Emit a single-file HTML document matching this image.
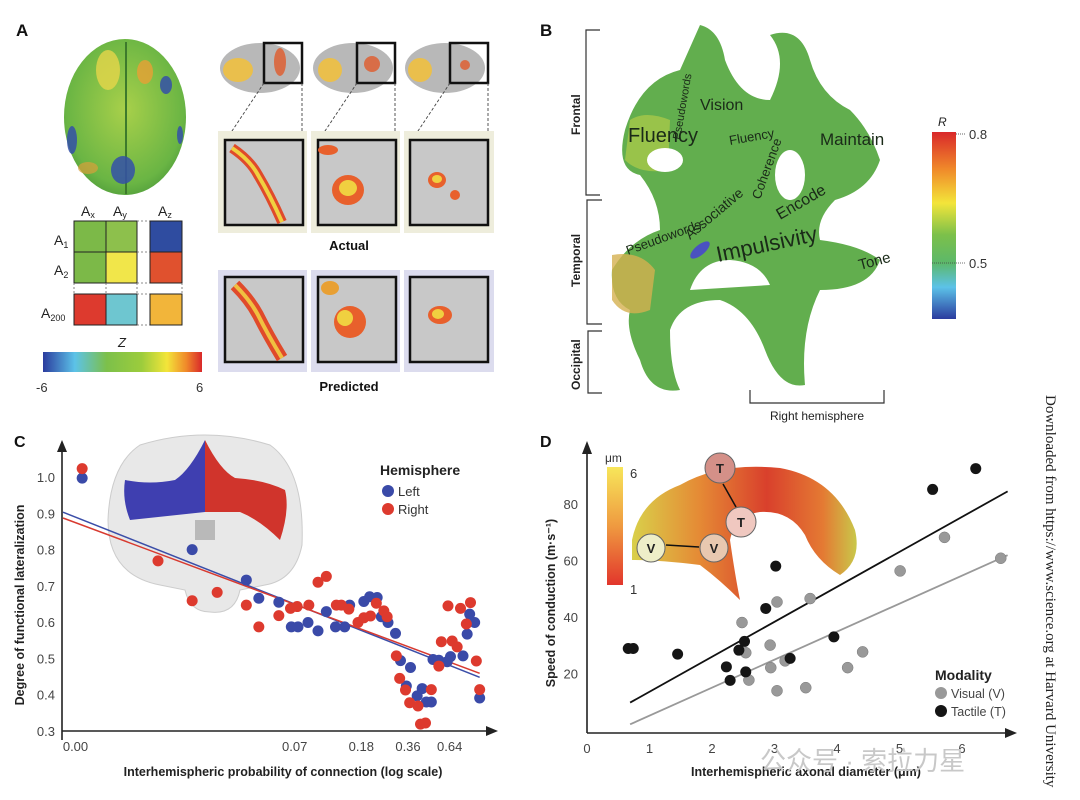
<!DOCTYPE html>
<html><head><meta charset="utf-8"><style>
html,body{margin:0;padding:0;background:#fff;}
body{width:1080px;height:800px;overflow:hidden;position:relative;font-family:"Liberation Sans",sans-serif;}
svg{position:absolute;left:0;top:0;}
</style></head><body>
<svg id="fig" width="1080" height="800" viewBox="0 0 1080 800" xmlns="http://www.w3.org/2000/svg">
<defs>
<linearGradient id="zgrad" x1="0" x2="1" y1="0" y2="0">
<stop offset="0" stop-color="#2b3c9e"/><stop offset="0.2" stop-color="#5cc2e8"/><stop offset="0.4" stop-color="#7cc04a"/><stop offset="0.62" stop-color="#9ccc3c"/><stop offset="0.78" stop-color="#f3e53a"/><stop offset="0.9" stop-color="#f08a2a"/><stop offset="1" stop-color="#d9282a"/>
</linearGradient>
<linearGradient id="rgrad" x1="0" x2="0" y1="0" y2="1">
<stop offset="0" stop-color="#d9282a"/><stop offset="0.2" stop-color="#f08a2a"/><stop offset="0.38" stop-color="#f3e53a"/><stop offset="0.55" stop-color="#7cc04a"/><stop offset="0.7" stop-color="#5cb86a"/><stop offset="0.83" stop-color="#5cc2e8"/><stop offset="1" stop-color="#2b3c9e"/>
</linearGradient>
<linearGradient id="umgrad" x1="0" x2="0" y1="0" y2="1">
<stop offset="0" stop-color="#f7e65a"/><stop offset="0.5" stop-color="#ef9a40"/><stop offset="1" stop-color="#e2362c"/>
</linearGradient>
<radialGradient id="brainTop" cx="0.5" cy="0.45" r="0.6">
<stop offset="0" stop-color="#a8d04a"/><stop offset="0.8" stop-color="#6ab544"/><stop offset="1" stop-color="#4d9a3a"/>
</radialGradient>
<linearGradient id="archGrad" x1="0" x2="1" y1="0" y2="0">
<stop offset="0" stop-color="#d9d04a"/><stop offset="0.3" stop-color="#e58a35"/><stop offset="0.6" stop-color="#d9402c"/><stop offset="0.85" stop-color="#e47a33"/><stop offset="1" stop-color="#c9c84a"/>
</linearGradient>
</defs>

<!-- ===== Panel A ===== -->
<text x="16" y="36" font-size="17" font-weight="bold" fill="#111">A</text>
<g>
<ellipse cx="125" cy="117" rx="61" ry="78" fill="url(#brainTop)"/>
<line x1="126" y1="42" x2="126" y2="194" stroke="#3d7a2c" stroke-width="2"/>
<ellipse cx="108" cy="70" rx="12" ry="20" fill="#e6d64a" opacity="0.8"/>
<ellipse cx="145" cy="72" rx="8" ry="12" fill="#e8a034" opacity="0.8"/>
<ellipse cx="123" cy="170" rx="12" ry="14" fill="#3450a8" opacity="0.85"/>
<ellipse cx="72" cy="140" rx="5" ry="14" fill="#3450a8" opacity="0.85"/>
<ellipse cx="166" cy="85" rx="6" ry="9" fill="#3450a8" opacity="0.85"/>
<ellipse cx="180" cy="135" rx="3" ry="9" fill="#3450a8" opacity="0.85"/>
<ellipse cx="88" cy="168" rx="10" ry="6" fill="#d9a03a" opacity="0.7"/>
</g>
<g font-size="14" fill="#222">
<text x="81" y="216">A<tspan font-size="9" dy="2">x</tspan></text>
<text x="113" y="216">A<tspan font-size="9" dy="2">y</tspan></text>
<text x="158" y="216">A<tspan font-size="9" dy="2">z</tspan></text>
<text x="54" y="245">A<tspan font-size="9" dy="3">1</tspan></text>
<text x="54" y="275">A<tspan font-size="9" dy="3">2</tspan></text>
<text x="41" y="318">A<tspan font-size="9" dy="3">200</tspan></text>
<rect x="74" y="221" width="32" height="31" fill="#7cb948" stroke="#222" stroke-width="1"/>
<rect x="106" y="221" width="31" height="31" fill="#8dc04c" stroke="#222" stroke-width="1"/>
<rect x="74" y="252" width="32" height="31" fill="#7cb948" stroke="#222" stroke-width="1"/>
<rect x="106" y="252" width="31" height="31" fill="#f1e64a" stroke="#222" stroke-width="1"/>
<rect x="150" y="221" width="32" height="31" fill="#2f4ca0" stroke="#222" stroke-width="1"/>
<rect x="150" y="252" width="32" height="31" fill="#e0512e" stroke="#222" stroke-width="1"/>
<rect x="74" y="294" width="32" height="31" fill="#dd3a2e" stroke="#222" stroke-width="1"/>
<rect x="106" y="294" width="31" height="31" fill="#6ec6d0" stroke="#222" stroke-width="1"/>
<rect x="150" y="294" width="32" height="31" fill="#f2b53a" stroke="#222" stroke-width="1"/>
<g stroke="#666" stroke-dasharray="2,2" stroke-width="0.8">
<line x1="137" y1="221" x2="150" y2="221"/><line x1="137" y1="252" x2="150" y2="252"/><line x1="137" y1="283" x2="150" y2="283"/>
<line x1="137" y1="294" x2="150" y2="294"/><line x1="137" y1="325" x2="150" y2="325"/>
<line x1="74" y1="283" x2="74" y2="294"/><line x1="106" y1="283" x2="106" y2="294"/><line x1="137" y1="283" x2="137" y2="294"/><line x1="182" y1="283" x2="182" y2="294"/>
</g>
</g>
<g>
<text x="118" y="347" font-size="13" font-style="italic" fill="#222">Z</text>
<rect x="43" y="352" width="159" height="20" fill="url(#zgrad)"/>
<text x="36" y="392" font-size="13" fill="#333">-6</text>
<text x="196" y="392" font-size="13" fill="#333">6</text>
</g>
<g>
<g id="lb1"><ellipse cx="260" cy="68" rx="40" ry="25" fill="#b8b8b8"/><ellipse cx="238" cy="70" rx="15" ry="12" fill="#f0c040" opacity="0.9"/><ellipse cx="280" cy="62" rx="6" ry="14" fill="#e05a2a" opacity="0.8"/><rect x="264" y="43" width="38" height="40" fill="none" stroke="#111" stroke-width="2.5"/></g>
<g><ellipse cx="353" cy="68" rx="40" ry="25" fill="#b8b8b8"/><ellipse cx="330" cy="70" rx="12" ry="12" fill="#f0c040" opacity="0.9"/><ellipse cx="372" cy="64" rx="8" ry="8" fill="#e05a2a" opacity="0.8"/><rect x="357" y="43" width="38" height="40" fill="none" stroke="#111" stroke-width="2.5"/></g>
<g><ellipse cx="445" cy="68" rx="40" ry="25" fill="#b8b8b8"/><ellipse cx="420" cy="70" rx="12" ry="12" fill="#f0c040" opacity="0.9"/><ellipse cx="465" cy="65" rx="5" ry="5" fill="#e05a2a" opacity="0.8"/><rect x="450" y="43" width="38" height="40" fill="none" stroke="#111" stroke-width="2.5"/></g>
<g stroke="#444" stroke-dasharray="3,2" stroke-width="0.9">
<line x1="264" y1="83" x2="226" y2="140"/><line x1="302" y1="83" x2="302" y2="140"/>
<line x1="357" y1="83" x2="319" y2="140"/><line x1="395" y1="83" x2="395" y2="140"/>
<line x1="450" y1="83" x2="412" y2="140"/><line x1="488" y1="83" x2="488" y2="140"/>
</g>
</g>
<g>
<rect x="218" y="131" width="89" height="102" fill="#eeeddc"/><rect x="311" y="131" width="89" height="102" fill="#eeeddc"/><rect x="404" y="131" width="90" height="102" fill="#eeeddc"/>
<rect x="225" y="140" width="78" height="85" fill="#c8c8c8" stroke="#111" stroke-width="2.5"/>
<rect x="318" y="140" width="78" height="85" fill="#c8c8c8" stroke="#111" stroke-width="2.5"/>
<rect x="410" y="140" width="78" height="85" fill="#c8c8c8" stroke="#111" stroke-width="2.5"/>
<path d="M232 148 Q250 160 258 175 Q270 195 282 222" stroke="#e04a2a" stroke-width="10" fill="none"/>
<path d="M232 148 Q250 160 258 175 Q270 195 282 222" stroke="#f0d040" stroke-width="4" fill="none"/>
<ellipse cx="348" cy="190" rx="16" ry="15" fill="#e8602c"/><ellipse cx="348" cy="188" rx="9" ry="8" fill="#f0d040"/><ellipse cx="328" cy="150" rx="10" ry="5" fill="#e8602c"/>
<ellipse cx="437" cy="180" rx="9" ry="8" fill="#e8602c"/><ellipse cx="437" cy="179" rx="5" ry="4" fill="#f0d040"/><ellipse cx="455" cy="195" rx="5" ry="5" fill="#e8602c"/>
<text x="349" y="250" font-size="13" font-weight="bold" text-anchor="middle" fill="#111">Actual</text>
</g>
<g>
<rect x="218" y="270" width="89" height="102" fill="#dcdcee"/><rect x="311" y="270" width="89" height="102" fill="#dcdcee"/><rect x="404" y="270" width="90" height="102" fill="#dcdcee"/>
<rect x="225" y="277" width="78" height="85" fill="#c8c8c8" stroke="#111" stroke-width="2.5"/>
<rect x="318" y="277" width="78" height="85" fill="#c8c8c8" stroke="#111" stroke-width="2.5"/>
<rect x="410" y="277" width="78" height="85" fill="#c8c8c8" stroke="#111" stroke-width="2.5"/>
<path d="M235 285 Q250 300 258 315 Q268 335 282 358" stroke="#e04a2a" stroke-width="12" fill="none"/>
<path d="M235 285 Q250 300 258 315 Q268 335 282 358" stroke="#f0c040" stroke-width="4" fill="none"/>
<ellipse cx="350" cy="322" rx="16" ry="16" fill="#e8602c"/><ellipse cx="345" cy="318" rx="8" ry="8" fill="#f0d040"/><ellipse cx="330" cy="288" rx="9" ry="7" fill="#e8a034"/>
<ellipse cx="440" cy="315" rx="12" ry="9" fill="#e8602c"/><ellipse cx="438" cy="314" rx="6" ry="5" fill="#f0d040"/>
<text x="349" y="391" font-size="13" font-weight="bold" text-anchor="middle" fill="#111">Predicted</text>
</g>

<!-- ===== Panel B ===== -->
<text x="540" y="36" font-size="17" font-weight="bold" fill="#111">B</text>
<g stroke="#333" stroke-width="1.2" fill="none">
<path d="M600 30 L586 30 L586 195 L600 195"/>
<path d="M602 200 L587 200 L587 324 L602 324"/>
<path d="M602 331 L588 331 L588 393 L602 393"/>
</g>
<g font-size="12" font-weight="bold" fill="#222">
<text transform="translate(580,135) rotate(-90)">Frontal</text>
<text transform="translate(580,287) rotate(-90)">Temporal</text>
<text transform="translate(580,390) rotate(-90)">Occipital</text>
</g>
<g>
<path d="M625 130 Q640 80 680 70 L700 25 Q720 30 725 60 Q740 100 770 100 Q790 60 770 35 Q800 25 810 60 Q820 95 850 110 Q870 130 880 160 Q870 190 835 200 Q815 220 820 240 Q860 245 880 260 Q870 290 820 290 Q800 330 805 385 Q780 390 765 350 Q750 310 720 300 Q680 300 670 330 Q670 370 680 390 Q650 395 640 360 Q625 330 630 310 Q610 300 612 270 Q630 240 660 230 Q660 200 640 175 Q615 170 625 130 Z" fill="#62ae4e"/>
<path d="M630 120 Q645 110 670 120 L668 170 Q640 175 625 160 Z" fill="#a8c84a" opacity="0.8"/>
<path d="M612 255 Q640 250 655 270 L650 310 Q625 320 612 300 Z" fill="#d4b050" opacity="0.8"/>
<ellipse cx="665" cy="160" rx="18" ry="12" fill="#fff"/>
<ellipse cx="790" cy="175" rx="15" ry="25" fill="#fff"/>
<path d="M690 290 Q700 260 730 260 Q760 262 770 285 Z" fill="#fff"/>
<ellipse cx="700" cy="250" rx="12" ry="5" fill="#4a52c0" transform="rotate(-40 700 250)"/>
<g fill="#1a2a18" font-family="Liberation Sans Narrow, Liberation Sans, sans-serif">
<text x="628" y="142" font-size="20" transform="rotate(0)">Fluency</text>
<text x="700" y="110" font-size="16">Vision</text>
<text x="718" y="262" font-size="22" transform="rotate(-12 718 262)">Impulsivity</text>
<text x="690" y="240" font-size="14" transform="rotate(-40 690 240)">Associative</text>
<text x="780" y="220" font-size="16" transform="rotate(-30 780 220)">Encode</text>
<text x="820" y="145" font-size="17">Maintain</text>
<text x="860" y="270" font-size="15" transform="rotate(-15 860 270)">Tone</text>
<text x="628" y="255" font-size="13" transform="rotate(-20 628 255)">Pseudowords</text>
<text x="680" y="140" font-size="11" transform="rotate(-80 680 140)">Pseudowords</text>
<text x="730" y="145" font-size="13" transform="rotate(-10 730 145)">Fluency</text>
<text x="760" y="200" font-size="13" transform="rotate(-70 760 200)">Coherence</text>
</g>
</g>
<g>
<text x="938" y="126" font-size="12" font-style="italic" fill="#222">R</text>
<rect x="932" y="132" width="24" height="187" fill="url(#rgrad)"/>
<line x1="956" y1="134" x2="966" y2="134" stroke="#666" stroke-dasharray="1,1"/>
<line x1="932" y1="263" x2="966" y2="263" stroke="#444" stroke-dasharray="1,1" stroke-width="0.8"/>
<text x="969" y="139" font-size="13" fill="#333">0.8</text>
<text x="969" y="268" font-size="13" fill="#333">0.5</text>
</g>
<g>
<path d="M750 390 L750 403 L884 403 L884 390" stroke="#333" stroke-width="1.2" fill="none"/>
<text x="817" y="420" font-size="12" text-anchor="middle" fill="#222">Right hemisphere</text>
</g>

<!-- ===== Panel C ===== -->
<text x="14" y="447" font-size="16" font-weight="bold" fill="#111">C</text>
<g>
<path d="M140 445 Q205 425 270 445 Q305 470 302 545 Q295 580 265 585 L240 590 Q235 615 210 612 Q190 612 185 590 L160 585 Q108 575 108 520 Q110 465 140 445 Z" fill="#e8e8e8" stroke="#ccc"/>
<path d="M205 440 Q190 470 175 480 Q150 485 125 480 Q122 500 130 520 L205 512 Z" fill="#3f3fb0"/>
<path d="M205 440 Q220 470 235 478 Q265 480 285 490 Q290 510 280 540 Q260 520 240 512 L205 512 Z" fill="#d0342c"/>
<rect x="195" y="520" width="20" height="20" fill="#999" opacity="0.6"/>
</g>
<g id="chartC"></g>

<!-- ===== Panel D ===== -->
<text x="540" y="447" font-size="16" font-weight="bold" fill="#111">D</text>
<g>
<path d="M632 540 Q640 500 680 485 Q720 462 780 468 Q835 478 855 530 Q862 560 840 575 Q815 560 805 535 Q790 510 760 512 Q735 515 730 540 Q735 575 740 600 Q720 580 700 565 Q660 560 632 560 Z" fill="url(#archGrad)"/>
<circle cx="720" cy="468" r="15" fill="#d49088" stroke="#666"/><text x="720" y="473" font-size="13" font-weight="bold" text-anchor="middle" fill="#222">T</text>
<circle cx="741" cy="522" r="15" fill="#f0c8c0" stroke="#666"/><text x="741" y="527" font-size="13" font-weight="bold" text-anchor="middle" fill="#222">T</text>
<circle cx="651" cy="548" r="14" fill="#eeeec8" stroke="#666"/><text x="651" y="553" font-size="13" font-weight="bold" text-anchor="middle" fill="#222">V</text>
<circle cx="714" cy="548" r="14" fill="#e8c8b0" stroke="#666"/><text x="714" y="553" font-size="13" font-weight="bold" text-anchor="middle" fill="#222">V</text>
<line x1="723" y1="484" x2="736" y2="507" stroke="#111" stroke-width="1.5"/>
<line x1="666" y1="545" x2="699" y2="547" stroke="#111" stroke-width="1.5"/>
<rect x="607" y="467" width="16" height="118" fill="url(#umgrad)"/>
<text x="605" y="462" font-size="12" fill="#333">μm</text>
<text x="630" y="478" font-size="13" fill="#333">6</text>
<text x="630" y="594" font-size="13" fill="#333">1</text>
</g>
<g id="chartD"></g>

<text x="760" y="770" font-size="26" fill="#c8c8c8" font-family="Liberation Sans, Noto Sans CJK SC, sans-serif">公众号 · 索拉力星</text>
<text transform="translate(1046,395) rotate(90)" font-size="15" font-family="Liberation Serif, serif" fill="#222">Downloaded from https://www.science.org at Harvard University</text>
</svg>
<script>
// ---- Chart C data ----
const cTickLabels = ["0.00","0.07","0.18","0.36","0.64"];
const cTickPos = [3, 55.6, 71.6, 82.8, 92.8];
const cYTicks = [1.0,0.9,0.8,0.7,0.6,0.5,0.4,0.3];
const leftX = [4.6,31,44,47,51.8,54.8,56.4,58.8,61.2,63.2,65.4,67.6,68.8,72.2,73.6,75.4,76.4,78,79.8,81,83.4,82.4,85,86.2,87.2,88.4,88.8,90.2,92.2,93,96,97,97.6,98.8,100];
const leftY = [0.997,0.80,0.716,0.666,0.655,0.587,0.587,0.599,0.576,0.629,0.587,0.587,0.647,0.657,0.670,0.668,0.615,0.599,0.569,0.494,0.475,0.424,0.397,0.417,0.380,0.380,0.497,0.495,0.491,0.505,0.507,0.567,0.622,0.599,0.391];
const rightX = [4.6,22.8,31,37,44,47,51.8,54.6,56.2,59,61.2,63.2,65.6,66.8,68.6,70.8,72.2,73.8,75.2,77,77.8,80,80.8,82.2,83.2,85.2,85.8,87,88.4,90.2,90.8,92.4,93.4,94.6,95.4,96.8,97.8,99.2,100];
const rightY = [1.023,0.769,0.659,0.682,0.647,0.587,0.618,0.638,0.643,0.647,0.710,0.726,0.647,0.647,0.636,0.599,0.612,0.617,0.652,0.631,0.615,0.507,0.445,0.413,0.378,0.369,0.319,0.322,0.414,0.479,0.546,0.645,0.548,0.532,0.638,0.595,0.654,0.493,0.414];
const leftFit = [0.903, 0.448];
const rightFit = [0.887, 0.459];
// ---- Chart D data ----
const dXTicks = [0,1,2,3,4,5,6];
const dYTicks = [20,40,60,80];
const visX = [2.48,2.54,2.59,2.93,2.94,3.04,3.04,3.17,3.50,3.57,4.17,4.41,5.01,5.72,6.62];
const visY = [38.0,27.3,17.6,30.0,22.0,45.3,13.8,24.4,14.9,46.5,22.0,27.6,56.3,68.2,60.8];
const tacX = [0.66,0.74,1.45,2.23,2.29,2.43,2.52,2.54,2.86,3.02,3.25,3.95,5.53,6.22];
const tacY = [28.8,28.8,26.8,22.3,17.5,28.2,31.3,20.5,43.0,58.0,25.3,32.9,85.2,92.6];
const visFit = [-4.95, 9.93];
const tacFit = [1.06, 12.4];
const fitRange = [0.69, 6.73];

const NS="http://www.w3.org/2000/svg";
function mk(parent, tag, attrs, text){const e=document.createElementNS(NS,tag);for(const k in attrs)e.setAttribute(k,attrs[k]);if(text!==undefined)e.textContent=text;parent.appendChild(e);return e;}

// Chart C
(function(){
const g=document.getElementById('chartC');
const xs=u=>63+u*4.1667, ys=v=>477+(1-v)*362.9;
let a=mk(g,'path',{d:'M62 740 L62 445',stroke:'#222','stroke-width':1.6,fill:'none'});

a=mk(g,'path',{d:'M57 452 L62 440 L67 452 Z',fill:'#222'});
a=mk(g,'path',{d:'M62 731 L490 731',stroke:'#222','stroke-width':1.6});

mk(g,'path',{d:'M486 726 L498 731 L486 736 Z',fill:'#222'});
cYTicks.forEach(v=>{const t=mk(g,'text',{x:55,y:ys(v)+5,'font-size':13,'text-anchor':'end',fill:'#444'},v.toFixed(1));
});
cTickLabels.forEach((l,i)=>{const t=mk(g,'text',{x:xs(cTickPos[i]),y:751,'font-size':13,'text-anchor':'middle',fill:'#444'},l);
});
let t=mk(g,'text',{x:283,y:776,'font-size':12.5,'font-weight':'bold','text-anchor':'middle',fill:'#222'},'Interhemispheric probability of connection (log scale)');

t=mk(g,'text',{transform:'translate(24,605) rotate(-90)','font-size':12.5,'font-weight':'bold','text-anchor':'middle',fill:'#222'},'Degree of functional lateralization');

let l=mk(g,'line',{x1:xs(0),y1:ys(leftFit[0]),x2:xs(100),y2:ys(leftFit[1]),stroke:'#3b4ea8','stroke-width':1.5});

l=mk(g,'line',{x1:xs(0),y1:ys(rightFit[0]),x2:xs(100),y2:ys(rightFit[1]),stroke:'#d83a30','stroke-width':1.5});

leftX.forEach((x,i)=>{const c=mk(g,'circle',{cx:xs(x),cy:ys(leftY[i]),r:5.5,fill:'#3a4aa8'});
});
rightX.forEach((x,i)=>{const c=mk(g,'circle',{cx:xs(x),cy:ys(rightY[i]),r:5.5,fill:'#dd3a2e'});
});
t=mk(g,'text',{x:380,y:475,'font-size':14,'font-weight':'bold',fill:'#222'},'Hemisphere');

let c=mk(g,'circle',{cx:388,cy:491,r:6,fill:'#3a4aa8'});
t=mk(g,'text',{x:398,y:496,'font-size':13,fill:'#333'},'Left');
c=mk(g,'circle',{cx:388,cy:509,r:6,fill:'#dd3a2e'});
t=mk(g,'text',{x:398,y:514,'font-size':13,fill:'#333'},'Right');
})();

// Chart D
(function(){
const g=document.getElementById('chartD');
const xs=x=>587+x*62.5, ys=y=>729.7-y*2.82;
let a=mk(g,'path',{d:'M587 733 L587 448',stroke:'#222','stroke-width':1.6,fill:'none'});

mk(g,'path',{d:'M582 454 L587 441 L592 454 Z',fill:'#222'});
a=mk(g,'path',{d:'M587 733 L1010 733',stroke:'#222','stroke-width':1.6});

mk(g,'path',{d:'M1005 728 L1017 733 L1005 738 Z',fill:'#222'});
dYTicks.forEach(v=>{const t=mk(g,'text',{x:578,y:ys(v)+5,'font-size':13,'text-anchor':'end',fill:'#444'},String(v));
});
dXTicks.forEach(v=>{const t=mk(g,'text',{x:xs(v),y:753,'font-size':13,'text-anchor':'middle',fill:'#444'},String(v));
});
let t=mk(g,'text',{x:806,y:776,'font-size':12.5,'font-weight':'bold','text-anchor':'middle',fill:'#222'},'Interhemispheric axonal diameter (μm)');

t=mk(g,'text',{transform:'translate(555,603) rotate(-90)','font-size':12.5,'font-weight':'bold','text-anchor':'middle',fill:'#222'},'Speed of conduction (m·s⁻¹)');

let l=mk(g,'line',{x1:xs(fitRange[0]),y1:ys(tacFit[0]+tacFit[1]*fitRange[0]),x2:xs(fitRange[1]),y2:ys(tacFit[0]+tacFit[1]*fitRange[1]),stroke:'#111','stroke-width':1.8});

l=mk(g,'line',{x1:xs(fitRange[0]),y1:ys(visFit[0]+visFit[1]*fitRange[0]),x2:xs(fitRange[1]),y2:ys(visFit[0]+visFit[1]*fitRange[1]),stroke:'#999','stroke-width':1.8});

visX.forEach((x,i)=>{const c=mk(g,'circle',{cx:xs(x),cy:ys(visY[i]),r:5.5,fill:'#999',stroke:'#777','stroke-width':0.5});
});
tacX.forEach((x,i)=>{const c=mk(g,'circle',{cx:xs(x),cy:ys(tacY[i]),r:5.5,fill:'#151515'});
});
t=mk(g,'text',{x:935,y:680,'font-size':14,'font-weight':'bold',fill:'#222'},'Modality');

let c=mk(g,'circle',{cx:941,cy:693,r:6,fill:'#999'});
t=mk(g,'text',{x:951,y:698,'font-size':12.5,fill:'#444'},'Visual (V)');
c=mk(g,'circle',{cx:941,cy:711,r:6,fill:'#151515'});
t=mk(g,'text',{x:951,y:716,'font-size':12.5,fill:'#444'},'Tactile (T)');
})();
</script>
</body></html>
